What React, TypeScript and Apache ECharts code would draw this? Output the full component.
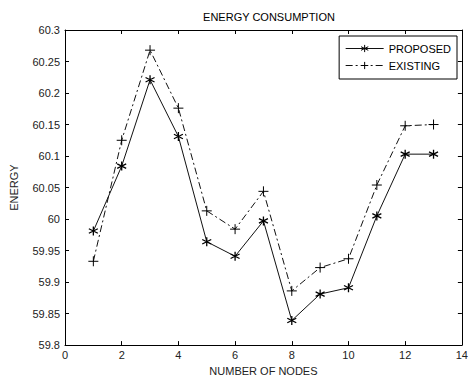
import React, { useEffect, useRef } from "react";
import * as echarts from "echarts";

const nodes = [1, 2, 3, 4, 5, 6, 7, 8, 9, 10, 11, 12, 13];
const proposed = [59.981, 60.084, 60.221, 60.131, 59.964, 59.941, 59.997, 59.839, 59.881, 59.891, 60.005, 60.103, 60.103];
const existing = [59.933, 60.125, 60.268, 60.176, 60.013, 59.984, 60.044, 59.886, 59.923, 59.937, 60.054, 60.148, 60.15];

const ASTERISK = "path://M0,-5L0,5M-4.33,-2.5L4.33,2.5M-4.33,2.5L4.33,-2.5";
const PLUS = "path://M-5,0L5,0M0,-5L0,5";

export default function App() {
  const ref = useRef<HTMLDivElement>(null);
  useEffect(() => {
    if (!ref.current) return;
    const chart = echarts.init(ref.current, undefined, { renderer: "svg" });
    const font = "Liberation Sans, Arial, sans-serif";
    const axisCommon = {
      axisLine: { show: true, onZero: false, lineStyle: { color: "#000", width: 1 } },
      axisTick: { show: true, inside: true, length: 4, lineStyle: { color: "#000" } },
      splitLine: { show: false },
    };
    const fmt = (v: number) => String(parseFloat(v.toFixed(2)));
    chart.setOption({
      animation: false,
      backgroundColor: "#fff",
      textStyle: { fontFamily: font },
      title: {
        text: "ENERGY CONSUMPTION",
        left: 264,
        top: 6,
        textAlign: "center",
        textStyle: { fontSize: 11, fontWeight: "normal", color: "#000", fontFamily: font },
      },
      legend: {
        orient: "vertical",
        right: 14,
        top: 36,
        backgroundColor: "#fff",
        borderColor: "#000",
        borderWidth: 1,
        padding: [7, 6, 8, 6],
        itemGap: 6,
        itemWidth: 38,
        itemHeight: 9,
        lineStyle: { width: 1 },
        itemStyle: { borderWidth: 1 },
        textStyle: { fontSize: 11, color: "#000", fontFamily: font },
        data: ["PROPOSED", "EXISTING"],
      },
      grid: { left: 62, right: 5, top: 30, bottom: 33, containLabel: false },
      xAxis: [
        {
          type: "value",
          min: 0,
          max: 14,
          interval: 2,
          name: "NUMBER OF NODES",
          nameLocation: "middle",
          nameGap: 19,
          nameTextStyle: { fontSize: 11, color: "#222", fontFamily: font },
          axisLabel: { fontSize: 11, color: "#222", margin: 4, fontFamily: font },
          ...axisCommon,
        },
        {
          type: "value",
          position: "top",
          min: 0,
          max: 14,
          interval: 2,
          axisLabel: { show: false },
          ...axisCommon,
        },
      ],
      yAxis: [
        {
          type: "value",
          min: 59.8,
          max: 60.3,
          interval: 0.05,
          name: "ENERGY",
          nameLocation: "middle",
          nameGap: 46,
          nameTextStyle: { fontSize: 11, color: "#222", fontFamily: font },
          axisLabel: { fontSize: 11, color: "#222", margin: 5, formatter: fmt, fontFamily: font },
          ...axisCommon,
        },
        {
          type: "value",
          position: "right",
          min: 59.8,
          max: 60.3,
          interval: 0.05,
          axisLabel: { show: false },
          ...axisCommon,
        },
      ],
      series: [
        {
          name: "PROPOSED",
          type: "line",
          data: nodes.map((n, i) => [n, proposed[i]]),
          symbol: ASTERISK,
          symbolSize: 9,
          lineStyle: { color: "#111", width: 1, type: "solid" },
          itemStyle: { color: "#000", borderColor: "#000", borderWidth: 1.3 },
          z: 3,
        },
        {
          name: "EXISTING",
          type: "line",
          data: nodes.map((n, i) => [n, existing[i]]),
          symbol: PLUS,
          symbolSize: 10,
          lineStyle: { color: "#111", width: 1, type: [7, 3, 2, 3] },
          itemStyle: { color: "#000", borderColor: "#000", borderWidth: 1 },
          z: 2,
        },
      ],
    });
    return () => chart.dispose();
  }, []);
  return <div ref={ref} style={{ width: 471, height: 381, position: "absolute", left: 0, top: 0 }} />;
}
